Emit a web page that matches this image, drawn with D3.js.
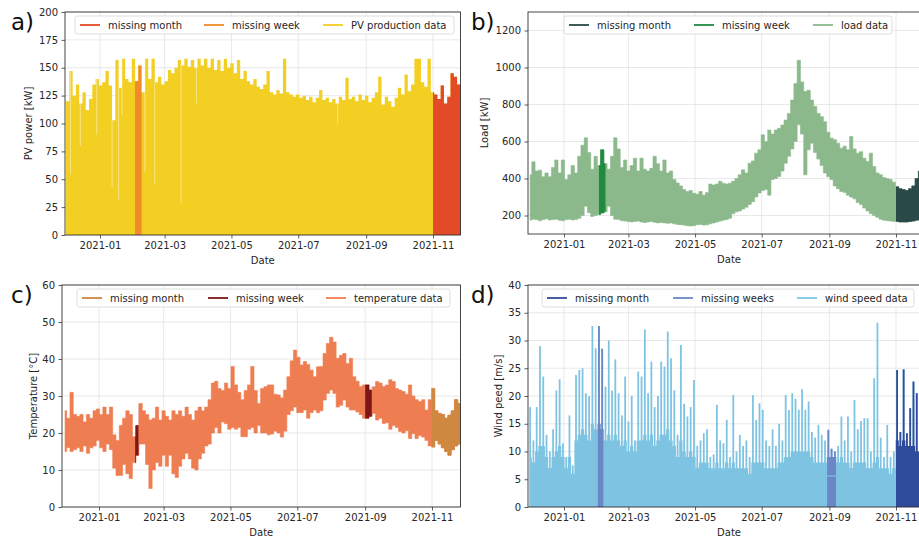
<!DOCTYPE html>
<html>
<head>
<meta charset="utf-8">
<script src="https://cdn.jsdelivr.net/npm/d3@7"></script>
<style>
  body { margin: 0; background: #fff; }
  svg { display: block; }
  text { font-family: "DejaVu Sans", sans-serif; }
</style>
</head>
<body>
<svg width="919" height="538"></svg>
<script>
// one value every 3 days, starting 2020-12-01
const startDay = new Date(2020, 11, 1);
const stepDays = 3;
const monthTicks = ["2021-01", "2021-03", "2021-05", "2021-07", "2021-09", "2021-11"];

// a) PV production, max of each 3-day window [kW]
const pvMax = [120,147,125,135,118,128,112,122,135,140,
  134,137,147,134,103,157,132,158,140,137,
  158,138,152,128,158,140,158,137,142,135,
  138,148,145,150,157,152,158,151,157,150,
  158,152,158,150,158,148,157,147,158,150,
  154,145,157,140,147,138,135,140,133,131,
  135,147,128,126,130,127,158,128,126,124,
  126,123,125,121,124,119,123,130,121,123,
  119,122,118,124,121,141,122,124,120,126,
  121,125,119,123,128,142,117,124,120,115,
  123,132,126,144,129,135,158,158,137,133,
  158,128,126,122,134,118,124,145,142,135,
  130,125];
// days with a low peak (thin light notches)
const pvDips = [["2020-12-05",55],["2020-12-14",80],["2020-12-29",90],["2021-01-12",43],
  ["2021-01-18",31],["2021-01-21",108],["2021-02-11",57],["2021-02-20",45],
  ["2021-03-16",28],["2021-03-30",118],["2021-08-06",100]];

// b) load [kW]
const loadHigh = [420,490,440,445,410,430,410,460,500,430,
  500,395,420,470,430,520,580,620,540,450,
  520,470,555,480,450,520,620,560,460,500,
  440,470,510,440,510,450,440,455,520,480,
  440,500,430,440,395,376,360,340,330,335,
  320,315,330,310,325,370,365,370,385,375,
  370,375,385,400,420,447,430,483,495,537,
  555,636,600,662,640,662,671,689,716,752,
  824,913,1039,922,870,877,824,790,752,734,
  707,650,618,610,591,564,575,555,627,560,
  537,545,510,492,537,465,430,420,405,400,
  394,380,355,345,340,335,345,360,400,440,
  440,440];
const loadLow = [175,180,178,172,178,182,176,178,180,175,
  172,178,180,176,178,185,200,250,215,195,
  200,205,214,220,250,200,180,178,172,170,
  168,165,168,170,165,162,165,168,163,160,
  162,160,158,160,155,152,150,148,145,143,
  145,150,152,148,150,155,160,165,170,175,
  178,185,210,220,225,235,245,260,275,300,
  322,335,340,310,394,400,411,440,483,520,
  560,600,690,640,420,555,591,540,505,470,
  430,410,394,360,345,330,325,310,300,290,
  270,260,240,225,210,200,190,180,175,172,
  170,168,168,165,165,165,168,170,175,178,
  180,180];

// c) temperature [°C]
const tempHigh = [26,24,31,25,24.5,25,23,25,24,26,
  26.5,25,27,25,27,19.5,18,22,24,26,
  25,19,22,28,26,25,23.5,24,27,23.5,
  26,24.5,23.5,26,25,26,24.5,27,25,23.5,
  26,27,26,27,29,33.5,34,32,31.5,33.5,
  32,38,33,31,29,31.5,33,38,31.5,28,
  32,32.5,33,33,30.5,30.3,29.5,31.6,35.2,39.5,
  42.4,40.5,38.4,39.3,38.5,37,35.2,37.9,38,41.5,
  44.2,45.9,44.6,40.2,41,41.5,38.8,40.2,35.2,34,
  32.6,33,33,31.6,32.5,33.9,33.5,32.6,33,34.4,
  33.9,32,31.6,31.2,30.5,33,30,29,28.5,29,
  26.2,29,32,26,25.3,25,24,24.8,26,29,
  28,27];
const tempLow = [15,16,15,15.5,16,15,16.5,14.5,16,16.5,
  18,16,15,17,15.5,10.5,8.5,8.5,11.5,9,
  7.7,12,14,17,17,11.5,5,10,12,11,
  14,11,14,9,8,11,13,14.5,13,10.5,
  10,13,14.5,16.5,17,20,21.5,20,23,22.5,
  21,21.5,21,21.5,19,19,21,21.5,20,22,
  20,20,19.5,19.7,20.5,20,18.9,20.5,25,26,
  27,25.5,25.5,26.2,24,25.5,26.2,25.5,26,28.9,
  30.7,31.6,30.7,27,27.5,28.9,27,26.2,26.2,25.7,
  25,24,24,24.5,25.3,23.5,24,22.6,22.8,21,
  22,21.5,20.4,20,20.6,18.5,19.8,18.5,19.3,18.9,
  18,16.5,16.2,18,17,16,15,14,15.5,16.5,
  17,17];

// d) wind speed [m/s]: gust peaks and the dense band top
const windPeak = [18,12,18,29,23.5,13,10,14,21,23,
  11.5,9,16.5,7.5,23.8,24.7,25,20.5,20,32.6,
  28.6,32.6,28.5,21.7,30,21,26.6,20.5,16.5,23.5,
  15.4,20,12,24.4,23.5,32,20.5,26.2,18,20,
  26.2,25.3,31.6,26.8,21,13,29.2,18.6,16.3,18,
  22.9,11,12,13.3,14,9,9.5,18.4,12,11.5,
  15.7,9,20.2,10,13,11,12,9,20.2,15.7,
  18.7,17.5,12,11,14,11,15,12,20.2,17.5,
  20.5,19.5,17.5,21.2,17.5,19,13.5,12.5,14.8,13,
  12,13.9,10.5,10,11,16.3,12,16.3,10,19.3,
  14,15.5,16,16,10,23.2,33.2,12.5,9,14.8,
  9,10,24.7,13.5,24.8,13.3,17.8,22.6,20.5,15,
  12,12];
const windBase = [9,8,10,11,11,9,7,9,10,11,
  9,7,9,6,12,13,14,13,12,15,
  14,15,14,12,13,12,13,12,11,12,
  10,11,10,12,12,13,12,13,11,12,
  13,13,14,12,11,9,12,10,9,10,
  9,7,8,8,8,7,7,8,7,7,
  8,7,8,7,7,7,7,6,8,8,
  8,8,7,7,7,7,8,8,9,9,
  10,10,10,10,10,10,9,8,8,8,
  8,9,9,9,8,9,8,8,7,8,
  8,8,8,7,7,8,9,7,7,7,
  6,7,12,11,12,11,11,11,10,10,
  9,9];
const windGapFill = 5.6;

const parseDay = d3.timeParse("%Y-%m-%d");
const parseMonth = d3.timeParse("%Y-%m");
const dates = pvMax.map((_, i) => d3.timeDay.offset(startDay, i * stepDays));

const panels = [
  { id: "a", tag: "a)", left: 65, right: 460.5, top: 12, bottom: 235, xJan: 100, xNov: 433,
    yDomain: [0, 200], yTicks: d3.range(0, 201, 25), yLabel: "PV power [kW]", yLabelX: 32,
    colors: { data: "#f2cf22", week: "#f08a2a", month: "#e34a26" },
    weeks: [["2021-02-02", "2021-02-08"]],
    legend: { box: [75, 454, 16, 34], items: [[80, "missing month", "month"], [204, "missing week", "week"], [323, "PV production data", "data"]] } },
  { id: "b", tag: "b)", left: 528, right: 926, top: 12, bottom: 234, xJan: 564, xNov: 896,
    yDomain: [100, 1300], yTicks: d3.range(200, 1201, 200), yLabel: "Load [kW]", yLabelX: 488,
    colors: { data: "#8bb98b", week: "#1f8a40", month: "#294a48" },
    weeks: [["2021-02-02", "2021-02-08"]],
    legend: { box: [564, 892, 16, 34], items: [[569, "missing month", "month"], [694, "missing week", "week"], [813, "load data", "data"]] } },
  { id: "c", tag: "c)", left: 62, right: 460.5, top: 285, bottom: 507, xJan: 99, xNov: 432,
    yDomain: [0, 60], yTicks: d3.range(0, 61, 10), yLabel: "Temperature [°C]", yLabelX: 37,
    colors: { data: "#ee7d52", week: "#7e1517", month: "#cf8840" },
    weeks: [["2021-02-03", "2021-02-06"], ["2021-09-01", "2021-09-07"]],
    legend: { box: [77, 450, 289, 307], items: [[82, "missing month", "month"], [208, "missing week", "week"], [326, "temperature data", "data"]] } },
  { id: "d", tag: "d)", left: 528, right: 926, top: 285, bottom: 507, xJan: 564, xNov: 896,
    yDomain: [0, 40], yTicks: d3.range(0, 41, 5), yLabel: "Wind peed [m/s]", yLabelX: 502,
    colors: { data: "#7ec4e2", week: "#6a87c6", month: "#2f4b9b" },
    weeks: [["2021-02-01", "2021-02-06"], ["2021-08-30", "2021-09-07"]],
    legend: { box: [542, 914, 289, 307], items: [[547, "missing month", "month"], [673, "missing weeks", "week"], [797, "wind speed data", "data"]] } }
];

const svg = d3.select("svg");
const defs = svg.append("defs");
const textColor = "#262626";

function setupPanel(p) {
  const x = d3.scaleTime().domain([parseMonth("2021-01"), parseMonth("2021-11")]).range([p.xJan, p.xNov]);
  const y = d3.scaleLinear().domain(p.yDomain).range([p.bottom, p.top]);
  const g = svg.append("g");

  // grid
  g.append("g").selectAll("line").data(monthTicks).join("line")
    .attr("x1", d => x(parseMonth(d))).attr("x2", d => x(parseMonth(d)))
    .attr("y1", p.top).attr("y2", p.bottom)
    .attr("stroke", "#e3e3e3").attr("stroke-width", 0.8);
  g.append("g").selectAll("line").data(p.yTicks).join("line")
    .attr("x1", p.left).attr("x2", p.right)
    .attr("y1", d => y(d)).attr("y2", d => y(d))
    .attr("stroke", "#e3e3e3").attr("stroke-width", 0.8);

  defs.append("clipPath").attr("id", "clip-" + p.id).append("rect")
    .attr("x", p.left).attr("y", p.top)
    .attr("width", p.right - p.left).attr("height", p.bottom - p.top);

  const plot = g.append("g").attr("clip-path", `url(#clip-${p.id})`);
  return { x, y, g, plot };
}

function finishPanel(p, ctx) {
  const { x, y, g } = ctx;
  g.append("rect")
    .attr("x", p.left).attr("y", p.top)
    .attr("width", p.right - p.left).attr("height", p.bottom - p.top)
    .attr("fill", "none").attr("stroke", "#333").attr("stroke-width", 0.9);

  const ax = g.append("g").attr("transform", `translate(0,${p.bottom})`)
    .call(d3.axisBottom(x).tickValues(monthTicks.map(parseMonth))
      .tickFormat(d3.timeFormat("%Y-%m")).tickSize(3.5).tickPadding(3.5));
  const ay = g.append("g").attr("transform", `translate(${p.left},0)`)
    .call(d3.axisLeft(y).tickValues(p.yTicks).tickFormat(d3.format("d")).tickSize(3.5).tickPadding(3.5));
  [ax, ay].forEach(a => {
    a.select(".domain").remove();
    a.attr("font-family", null).attr("font-size", 10);
    a.selectAll("line").attr("stroke", "#333").attr("stroke-width", 0.8);
    a.selectAll("text").attr("fill", textColor);
  });

  g.append("text")
    .attr("x", (p.left + Math.min(p.right, 919 + 7)) / 2 + (p.id === "b" || p.id === "d" ? 2 : 0))
    .attr("y", p.bottom + 29)
    .attr("text-anchor", "middle").attr("font-size", 10).attr("fill", textColor)
    .text("Date");

  g.append("text")
    .attr("transform", `translate(${p.yLabelX},${(p.top + p.bottom) / 2}) rotate(-90)`)
    .attr("text-anchor", "middle").attr("font-size", 10).attr("fill", textColor)
    .text(p.yLabel);

  g.append("text")
    .attr("x", p.id === "a" || p.id === "c" ? 11 : 471)
    .attr("y", p.top + 18)
    .attr("font-size", 23).attr("fill", "#111")
    .text(p.tag);

  // legend
  const L = p.legend;
  const lg = g.append("g");
  lg.append("rect")
    .attr("x", L.box[0]).attr("y", L.box[2])
    .attr("width", L.box[1] - L.box[0]).attr("height", L.box[3] - L.box[2])
    .attr("rx", 2.5).attr("fill", "#fff").attr("fill-opacity", 0.85)
    .attr("stroke", "#d6d6d6").attr("stroke-width", 0.8);
  const cy = (L.box[2] + L.box[3]) / 2;
  L.items.forEach(([lx, label, key]) => {
    lg.append("line")
      .attr("x1", lx).attr("x2", lx + 20).attr("y1", cy).attr("y2", cy)
      .attr("stroke", p.colors[key]).attr("stroke-width", 1.8);
    lg.append("text")
      .attr("x", lx + 28).attr("y", cy + 3.6)
      .attr("font-size", 10).attr("fill", textColor)
      .text(label);
  });
}

// draw a shape in data colour, then redraw it clipped to the missing week(s) and month
function drawSegments(p, ctx, drawFn) {
  const { x, plot } = ctx;
  drawFn(plot.append("g"), p.colors.data);
  p.weeks.forEach((wk, k) => {
    const id = `clip-${p.id}-w${k}`;
    const x0 = x(parseDay(wk[0])), x1 = x(parseDay(wk[1]));
    defs.append("clipPath").attr("id", id).append("rect")
      .attr("x", x0).attr("y", p.top).attr("width", x1 - x0).attr("height", p.bottom - p.top);
    drawFn(plot.append("g").attr("clip-path", `url(#${id})`), p.colors.week);
  });
  const mid = `clip-${p.id}-m`;
  const xm = x(parseMonth("2021-11"));
  defs.append("clipPath").attr("id", mid).append("rect")
    .attr("x", xm).attr("y", p.top).attr("width", 1000).attr("height", p.bottom - p.top);
  drawFn(plot.append("g").attr("clip-path", `url(#${mid})`), p.colors.month);
}

// a) PV
{
  const p = panels[0];
  const ctx = setupPanel(p);
  const { x, y } = ctx;
  const area = d3.area().curve(d3.curveStepAfter)
    .x((d, i) => x(dates[i])).y0(y(0)).y1(d => y(d));
  drawSegments(p, ctx, (sel, color) => {
    sel.append("path").datum(pvMax).attr("d", area).attr("fill", color);
  });
  ctx.plot.append("g").selectAll("line").data(pvDips).join("line")
    .attr("x1", d => x(parseDay(d[0]))).attr("x2", d => x(parseDay(d[0])))
    .attr("y1", d => y(d[1]))
    .attr("y2", d => {
      const i = Math.round(d3.timeDay.count(startDay, parseDay(d[0])) / stepDays);
      return y(pvMax[Math.min(i, pvMax.length - 1)]);
    })
    .attr("stroke", "#fff").attr("stroke-opacity", 0.45).attr("stroke-width", 1);
  finishPanel(p, ctx);
}

// b) load
{
  const p = panels[1];
  const ctx = setupPanel(p);
  const { x, y } = ctx;
  const area = d3.area().curve(d3.curveStep)
    .x((d, i) => x(dates[i])).y0((d, i) => y(loadLow[i])).y1(d => y(d));
  drawSegments(p, ctx, (sel, color) => {
    sel.append("path").datum(loadHigh).attr("d", area).attr("fill", color)
      .attr("stroke", color).attr("stroke-width", 0.6);
  });
  finishPanel(p, ctx);
}

// c) temperature
{
  const p = panels[2];
  const ctx = setupPanel(p);
  const { x, y } = ctx;
  const area = d3.area().curve(d3.curveStep)
    .x((d, i) => x(dates[i])).y0((d, i) => y(tempLow[i])).y1(d => y(d));
  drawSegments(p, ctx, (sel, color) => {
    sel.append("path").datum(tempHigh).attr("d", area).attr("fill", color)
      .attr("stroke", color).attr("stroke-width", 0.6);
  });
  finishPanel(p, ctx);
}

// d) wind
{
  const p = panels[3];
  const ctx = setupPanel(p);
  const { x, y } = ctx;
  const area = d3.area().curve(d3.curveStep)
    .x((d, i) => x(dates[i])).y0(y(0)).y1(d => y(d));
  drawSegments(p, ctx, (sel, color) => {
    sel.append("path").datum(windBase).attr("d", area).attr("fill", color);
    sel.append("g").selectAll("line").data(windPeak).join("line")
      .attr("x1", (d, i) => x(dates[i])).attr("x2", (d, i) => x(dates[i]))
      .attr("y1", y(0)).attr("y2", d => y(d))
      .attr("stroke", color).attr("stroke-width", 1.8);
  });
  const wk = p.weeks[1];
  ctx.plot.append("line")
    .attr("x1", x(parseDay(wk[0]))).attr("x2", x(parseDay(wk[1])))
    .attr("y1", y(windGapFill)).attr("y2", y(windGapFill))
    .attr("stroke", p.colors.data).attr("stroke-width", 1.2);
  finishPanel(p, ctx);
}
</script>
</body>
</html>
